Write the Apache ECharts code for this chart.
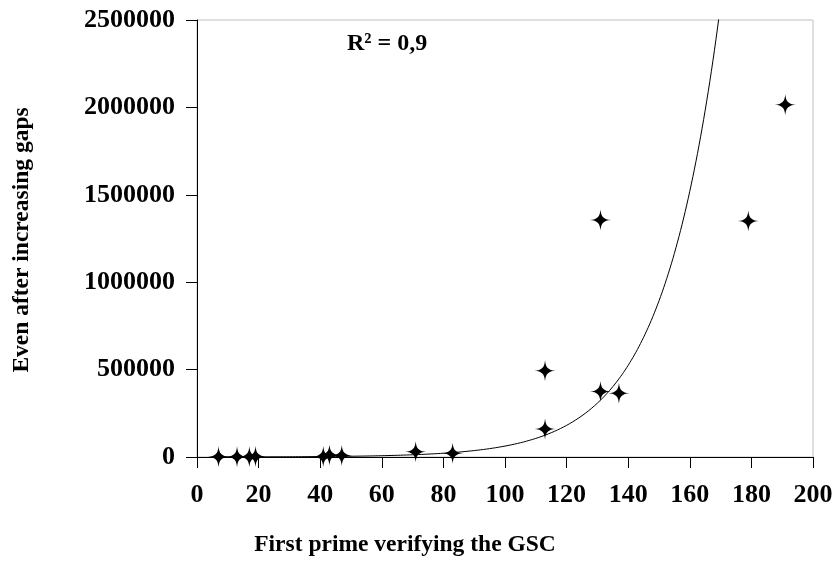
<!DOCTYPE html>
<html>
<head>
<meta charset="utf-8">
<script src="https://cdn.jsdelivr.net/npm/echarts@6/dist/echarts.min.js"></script>
<style>
  html, body { margin: 0; padding: 0; background: #fff; }
  #chart { width: 838px; height: 571px; }
</style>
</head>
<body>
<div id="chart"></div>
<script>
// first prime verifying the GSC vs even after increasing gaps
const primes = [7, 13, 17, 19, 41, 43, 47, 71, 83, 113, 113, 131, 131, 137, 179, 191]
const evens = [1000, 1500, 2000, 2500, 3000, 12000, 9000, 30000, 21000, 160000, 494000, 374000, 1356000, 364000, 1350000, 2015000]

// exponential trendline y = a * e^(b x)
const trendA = 305.7
const trendB = 0.0532
const trendFrom = 7
const trendTo = 191

const xTicks = [0, 20, 40, 60, 80, 100, 120, 140, 160, 180, 200]
const yTicks = [0, 500000, 1000000, 1500000, 2000000, 2500000]

const chart = echarts.init(document.getElementById('chart'))

const points = primes.map((p, i) => [p, evens[i]])
const trend = []
for (let x = trendFrom; x <= trendTo; x += 0.5) {
    trend.push([x, trendA * Math.exp(trendB * x)])
}

const font = '"Liberation Serif", serif'
// four pointed star marker
const star = 'path://M10,0 C10.6,7 13,9.4 20,10 C13,10.6 10.6,13 10,20 C9.4,13 7,10.6 0,10 C7,9.4 9.4,7 10,0Z'

const option = {
    animation: false,
    grid: {
        left: 197,
        right: 25,
        top: 20,
        bottom: 114,
        show: true,
        borderColor: '#c0c0c0',
        borderWidth: 1
    },
    xAxis: {
        type: 'value',
        min: xTicks[0],
        max: xTicks[xTicks.length - 1],
        interval: 20,
        axisLine: { lineStyle: { color: '#000', width: 1 } },
        axisTick: { show: true, length: 11, lineStyle: { color: '#000' } },
        axisLabel: { margin: 25, fontFamily: font, fontWeight: 'bold', fontSize: 26, color: '#000' },
        splitLine: { show: false }
    },
    yAxis: {
        type: 'value',
        min: yTicks[0],
        max: yTicks[yTicks.length - 1],
        interval: 500000,
        axisLine: { show: true, lineStyle: { color: '#000', width: 1 } },
        axisTick: { show: true, length: 11, lineStyle: { color: '#000' } },
        axisLabel: {
            margin: 22,
            fontFamily: font,
            fontWeight: 'bold',
            fontSize: 26,
            color: '#000',
            formatter: v => String(v)
        },
        splitLine: { show: false }
    },
    graphic: [
        {
            type: 'text',
            left: 347,
            top: 32,
            style: { text: 'R² = 0,9', fontFamily: font, fontWeight: 'bold', fontSize: 24, fill: '#000' }
        },
        {
            type: 'text',
            x: 405,
            y: 545,
            style: {
                text: 'First prime verifying the GSC',
                fontFamily: font, fontWeight: 'bold', fontSize: 23.5, fill: '#000',
                align: 'center', verticalAlign: 'middle'
            }
        },
        {
            type: 'text',
            x: 22,
            y: 240,
            rotation: Math.PI / 2,
            style: {
                text: 'Even after increasing gaps',
                fontFamily: font, fontWeight: 'bold', fontSize: 23.5, fill: '#000',
                align: 'center', verticalAlign: 'middle'
            }
        }
    ],
    series: [
        {
            type: 'line',
            data: trend,
            showSymbol: false,
            smooth: false,
            clip: true,
            lineStyle: { color: '#000', width: 1 },
            z: 2
        },
        {
            type: 'scatter',
            data: points,
            symbol: star,
            symbolSize: [21, 21],
            itemStyle: { color: '#000', opacity: 1 },
            z: 3
        }
    ]
}

chart.setOption(option)
</script>
</body>
</html>
